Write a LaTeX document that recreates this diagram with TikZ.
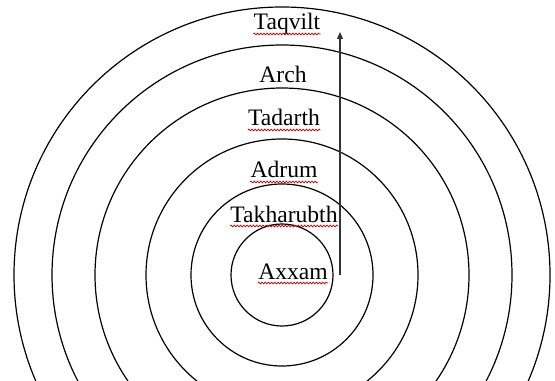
\documentclass[tikz,border=0pt]{standalone}
\usepackage{fontspec}
\setmainfont{Liberation Serif}
\usetikzlibrary{arrows.meta, positioning, calc, decorations.pathmorphing}

\begin{document}
\begin{tikzpicture}[
    x=0.5pt, y=0.5pt,
    ring/.style={draw, circle, line width=0.6pt, inner sep=0pt},
    word/.style={font=\fontsize{11.8}{14}\selectfont, inner sep=0pt, anchor=base},
    arrow/.style={-{Triangle[length=3.5pt, width=3pt]}, line width=0.6pt, black!80},
    spell/.style={red!75!black, line width=0.35pt, decorate,
                  decoration={snake, amplitude=0.45pt, segment length=1.6pt}}
]
  \useasboundingbox (0,0) rectangle (555,380);
  \clip (0,0) rectangle (555,380);

  % the rings, from inside out
  \coordinate (centre) at (282,105);
  \foreach \name/\r in {axxamring/51, takharubthring/91, adrumring/136,
                        tadarthring/187, archring/230, taqviltring/268}
    \node[ring, minimum size=\r pt] (\name) at (centre) {};

  % names of the rings
  \node[word] (taqvilt) at (287,350) {Taqvilt};
  \node[word] (arch) at (283,297) {Arch};
  \node[word] (tadarth) at (284,254) {Tadarth};
  \node[word] (adrum) at (284,202) {Adrum};
  \node[word] (takharubth) at (284,158) {Takharubth};
  \node[word] (axxam) at (293,101) {Axxam};

  \foreach \w in {taqvilt, tadarth, adrum, takharubth, axxam}
    \draw[spell] ($(\w.base west)+(0,-4)$) -- ($(\w.base east)+(0,-4)$);

  % outward arrow
  \coordinate (tail) at (340,105);
  \coordinate (head) at (340,348);
  \draw[arrow] (tail) -- (head);
\end{tikzpicture}
\end{document}
